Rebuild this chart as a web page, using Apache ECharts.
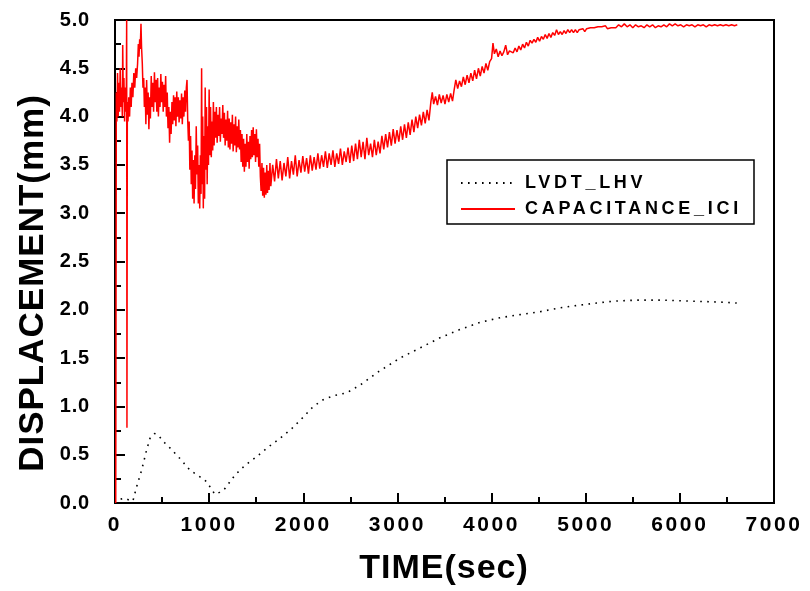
<!DOCTYPE html>
<html>
<head>
<meta charset="utf-8">
<script src="https://cdn.jsdelivr.net/npm/echarts@6/dist/echarts.min.js"></script>
<style>
html,body{margin:0;padding:0;background:#fff;}
#chart{width:810px;height:591px;}
</style>
</head>
<body>
<div id="chart"></div>
<script>
const seriesNames = ['LVDT_LHV', 'CAPACITANCE_ICI'];
const xTitle = 'TIME(sec)';
const yTitle = 'DISPLACEMENT(mm)';

// LVDT_LHV : [time (sec), displacement (mm)]
const lvdt = [
  [60,0.04],[100,0.05],[150,0.03],[190,0.02],[230,0.17],[283,0.34],[336,0.55],[372,0.67],
  [420,0.72],[460,0.70],[520,0.63],[584,0.57],[690,0.46],[797,0.34],[903,0.27],[974,0.22],
  [1027,0.14],[1062,0.09],[1110,0.11],[1168,0.15],[1275,0.29],[1381,0.39],[1505,0.48],
  [1629,0.58],[1753,0.67],[1877,0.77],[2001,0.89],[2107,1.00],[2213,1.07],[2319,1.11],
  [2461,1.14],[2602,1.22],[2800,1.36],[3027,1.50],[3250,1.61],[3452,1.71],[3650,1.79],
  [3877,1.87],[4100,1.92],[4302,1.95],[4514,1.98],[4727,2.02],[4868,2.04],[5116,2.07],
  [5300,2.09],[5541,2.10],[5824,2.10],[6108,2.09],[6427,2.08],[6604,2.07]
];

// CAPACITANCE_ICI : [time (sec), displacement (mm)]
const capacitance = [
  [8,0.0],[14,4.25],[20,3.95],[27,4.45],[34,4.0],[41,4.35],[48,4.05],[55,4.5],[62,4.1],[70,4.3],
  [78,4.0],[82,4.74],[88,4.15],[95,4.4],[102,3.95],[108,4.3],[114,4.05],[120,4.2],[124,5.0],[127,0.78],
  [131,4.15],[138,3.95],[146,4.2],[155,4.0],[163,4.3],[172,4.1],[180,4.35],[190,4.2],[200,4.45],[210,4.3],
  [220,4.5],[230,4.4],[240,4.55],[248,4.75],[255,4.62],[262,4.8],[268,4.7],[276,4.96],[282,4.72],[290,4.55],
  [297,4.3],[305,4.4],[312,4.1],[320,4.3],[328,3.92],[336,4.38],[344,4.02],[352,4.25],[360,3.87],[368,4.2],
  [376,3.98],[385,4.42],[393,4.1],[402,4.35],[410,4.05],[419,4.46],[427,4.15],[436,4.38],[444,4.05],[453,4.4],
  [461,4.0],[470,4.3],[478,4.1],[487,4.44],[495,4.15],[504,4.36],[512,4.05],[521,4.33],[529,4.1],[538,4.42],
  [546,4.0],[555,4.25],[563,3.88],[572,4.1],[580,3.73],[588,4.05],[596,3.82],[605,4.15],[613,3.92],[622,4.22],
  [630,3.96],[639,4.2],[647,3.9],[656,4.26],[664,4.0],[673,4.2],[681,3.94],[690,4.17],[698,3.98],[707,4.24],
  [715,3.92],[724,4.2],[732,4.0],[741,4.27],[749,4.05],[758,4.3],[765,4.38],[772,3.98],[780,3.75],[788,3.95],
  [795,3.45],[803,3.8],[810,3.3],[818,3.65],[825,3.15],[833,3.55],[840,3.1],[848,3.6],[855,3.25],[863,3.9],
  [870,3.4],[878,3.7],[885,3.1],[893,3.5],[900,3.05],[907,3.6],[914,3.2],[920,4.5],[926,3.3],[932,4.0],
  [938,3.05],[945,3.8],[952,3.15],[958,4.3],[965,3.45],[972,4.1],[979,3.3],[986,3.9],[993,3.5],[1000,4.28],
  [1008,3.6],[1015,4.1],[1023,3.58],[1030,3.95],[1038,3.65],[1045,4.15],[1053,3.7],[1060,4.05],[1068,3.78],[1077,4.1],
  [1085,3.73],[1094,4.02],[1102,3.8],[1111,4.1],[1119,3.74],[1128,3.98],[1136,3.82],[1145,4.12],[1153,3.78],[1162,4.04],
  [1170,3.7],[1179,3.97],[1187,3.75],[1196,4.06],[1204,3.68],[1213,3.98],[1221,3.66],[1230,3.94],[1238,3.72],[1247,4.02],
  [1255,3.64],[1264,3.92],[1272,3.7],[1281,4.0],[1289,3.63],[1298,3.9],[1306,3.68],[1315,3.97],[1323,3.66],[1332,3.86],
  [1340,3.53],[1349,3.82],[1357,3.48],[1366,3.77],[1374,3.43],[1383,3.72],[1391,3.48],[1400,3.82],[1408,3.53],[1417,3.74],
  [1425,3.46],[1434,3.8],[1442,3.56],[1451,3.86],[1459,3.58],[1468,3.89],[1476,3.6],[1485,3.82],[1493,3.53],[1502,3.87],
  [1510,3.58],[1519,3.77],[1527,3.48],[1536,3.72],[1544,3.38],[1552,3.23],[1561,3.52],[1569,3.18],[1578,3.47],[1586,3.16],
  [1595,3.42],[1603,3.19],[1612,3.5],[1620,3.21],[1629,3.44],[1637,3.24],[1646,3.52],[1655,3.28],[1675,3.5],[1695,3.33],
  [1715,3.56],[1735,3.36],[1755,3.54],[1775,3.34],[1795,3.52],[1815,3.38],[1835,3.58],[1855,3.36],[1875,3.54],[1895,3.4],
  [1915,3.6],[1935,3.38],[1955,3.55],[1975,3.42],[1995,3.59],[2015,3.43],[2035,3.57],[2055,3.41],[2075,3.6],[2095,3.44],
  [2115,3.58],[2135,3.45],[2155,3.62],[2175,3.46],[2195,3.6],[2215,3.48],[2235,3.64],[2255,3.47],[2275,3.62],[2295,3.5],
  [2315,3.65],[2335,3.48],[2355,3.62],[2375,3.51],[2395,3.67],[2415,3.5],[2435,3.64],[2455,3.53],[2475,3.68],[2495,3.52],
  [2515,3.7],[2535,3.54],[2555,3.72],[2575,3.56],[2595,3.76],[2615,3.58],[2635,3.74],[2655,3.56],[2675,3.78],[2695,3.6],
  [2715,3.72],[2735,3.58],[2755,3.76],[2775,3.6],[2795,3.74],[2815,3.62],[2835,3.8],[2855,3.66],[2875,3.82],[2895,3.68],
  [2915,3.84],[2935,3.7],[2955,3.87],[2975,3.72],[2995,3.86],[3015,3.74],[3035,3.9],[3055,3.76],[3075,3.92],[3095,3.78],
  [3115,3.94],[3135,3.81],[3155,3.97],[3175,3.84],[3195,4.0],[3215,3.88],[3235,4.02],[3255,3.91],[3275,4.05],[3295,3.93],
  [3315,4.07],[3335,3.96],[3355,4.15],[3370,4.25],[3385,4.13],[3405,4.21],[3425,4.12],[3445,4.23],[3465,4.14],[3485,4.22],
  [3505,4.13],[3525,4.23],[3545,4.15],[3565,4.24],[3585,4.16],[3600,4.26],[3620,4.38],[3640,4.29],[3660,4.37],[3680,4.31],
  [3700,4.41],[3720,4.33],[3740,4.43],[3760,4.35],[3780,4.45],[3800,4.37],[3820,4.48],[3840,4.39],[3860,4.5],[3880,4.42],
  [3900,4.52],[3920,4.45],[3940,4.55],[3960,4.48],[3980,4.57],[4000,4.6],[4015,4.76],[4030,4.65],[4050,4.7],[4070,4.62],
  [4090,4.68],[4110,4.63],[4130,4.67],[4150,4.74],[4170,4.64],[4190,4.68],[4210,4.7],[4230,4.66],[4250,4.71],[4270,4.67],
  [4290,4.73],[4310,4.69],[4330,4.75],[4350,4.71],[4370,4.77],[4390,4.73],[4410,4.79],[4430,4.76],[4450,4.8],[4470,4.77],
  [4490,4.82],[4510,4.78],[4530,4.83],[4550,4.8],[4570,4.85],[4590,4.81],[4610,4.86],[4630,4.82],[4650,4.87],[4670,4.84],
  [4690,4.9],[4710,4.85],[4730,4.88],[4750,4.85],[4770,4.89],[4790,4.86],[4810,4.9],[4830,4.87],[4850,4.9],[4870,4.87],
  [4890,4.9],[4910,4.87],[4930,4.9],[4950,4.88],[4970,4.91],[4990,4.88],[5010,4.91],[5030,4.89],[5050,4.92],[5070,4.9],
  [5090,4.92],[5110,4.9],[5130,4.93],[5150,4.91],[5170,4.93],[5190,4.91],[5210,4.94],[5230,4.91],[5250,4.93],[5270,4.92],
  [5290,4.94],[5320,4.92],[5350,4.95],[5380,4.93],[5410,4.96],[5440,4.93],[5470,4.95],[5500,4.92],[5530,4.95],[5560,4.93],
  [5590,4.94],[5620,4.92],[5650,4.95],[5680,4.93],[5710,4.95],[5740,4.92],[5770,4.94],[5800,4.93],[5830,4.95],[5860,4.93],
  [5890,4.96],[5920,4.94],[5950,4.96],[5980,4.94],[6010,4.95],[6040,4.93],[6070,4.95],[6100,4.94],[6130,4.95],[6160,4.93],
  [6190,4.95],[6220,4.94],[6250,4.95],[6280,4.93],[6310,4.95],[6340,4.94],[6370,4.95],[6400,4.94],[6430,4.95],[6460,4.94],
  [6490,4.95],[6520,4.94],[6550,4.95],[6580,4.94],[6610,4.95]
];

const FONT = '"Liberation Sans", Arial, Helvetica, sans-serif';

// letter spacing (px) for the bold texts, keyed by font size
const LETTER_SPACING = {18: 3.7, 21: 2.6, 20: 0.8, 34: 1, 35: 1};
(function () {
  const proto = CanvasRenderingContext2D.prototype;
  const orig = proto.fillText;
  proto.fillText = function (t, x, y, mw) {
    const m = /(\d+(?:\.\d+)?)px/.exec(this.font || '');
    const sp = m ? LETTER_SPACING[Math.round(parseFloat(m[1]))] : 0;
    if (sp && 'letterSpacing' in this) {
      const prev = this.letterSpacing;
      this.letterSpacing = sp + 'px';
      if (mw === undefined) orig.call(this, t, x, y); else orig.call(this, t, x, y, mw);
      this.letterSpacing = prev;
      return;
    }
    if (mw === undefined) return orig.call(this, t, x, y);
    return orig.call(this, t, x, y, mw);
  };
})();

const chart = echarts.init(document.getElementById('chart'), null, {renderer: 'canvas'});
chart.setOption({
  animation: false,
  backgroundColor: '#ffffff',
  grid: {
    left: 115, right: 36, top: 20, bottom: 88,
    show: true, borderColor: '#000', borderWidth: 2, backgroundColor: 'transparent'
  },
  xAxis: {
    type: 'value', min: 0, max: 7000, interval: 1000,
    axisLine: {show: true, lineStyle: {color: '#000', width: 2}},
    axisTick: {show: true, inside: true, length: 10, lineStyle: {color: '#000', width: 2}},
    minorTick: {show: true, splitNumber: 2, length: 6, lineStyle: {color: '#000', width: 2}},
    splitLine: {show: false},
    axisLabel: {color: '#000', fontFamily: FONT, fontWeight: 'bold', fontSize: 21, margin: 12,
      formatter: v => String(v)}
  },
  yAxis: {
    type: 'value', min: 0, max: 5, interval: 0.5,
    axisLine: {show: true, lineStyle: {color: '#000', width: 2}},
    axisTick: {show: true, inside: true, length: 10, lineStyle: {color: '#000', width: 2}},
    minorTick: {show: true, splitNumber: 2, length: 6, lineStyle: {color: '#000', width: 2}},
    splitLine: {show: false},
    axisLabel: {color: '#000', fontFamily: FONT, fontWeight: 'bold', fontSize: 20, margin: 25,
      formatter: v => v.toFixed(1)}
  },
  legend: {
    orient: 'vertical', left: 447, top: 162,
    padding: [12, 12, 12, 13], itemGap: 8, itemWidth: 54, itemHeight: 17,
    borderWidth: 0, backgroundColor: 'transparent',
    itemStyle: {opacity: 0},
    textStyle: {color: '#000', fontFamily: FONT, fontWeight: 'bold', fontSize: 18, padding: [0, 0, 0, 5]},
    data: seriesNames
  },
  graphic: [
    {
      type: 'rect', shape: {x: 447, y: 160, width: 307, height: 64}, z: 1,
      style: {fill: '#fff', stroke: '#000', lineWidth: 1.5}
    },
    {
      type: 'text', x: 444, y: 569,
      style: {text: xTitle, fill: '#000', font: 'bold 34px ' + FONT, textAlign: 'center', textVerticalAlign: 'middle'}
    },
    {
      type: 'text', x: 33, y: 283, rotation: Math.PI / 2,
      style: {text: yTitle, fill: '#000', font: 'bold 35px ' + FONT, textAlign: 'center', textVerticalAlign: 'middle'}
    }
  ],
  series: [
    {
      name: seriesNames[0], type: 'line', data: lvdt, symbol: 'none', smooth: false,
      lineStyle: {color: '#000', width: 1.6, type: [1.6, 5.4]},
      itemStyle: {color: '#000'}, z: 3
    },
    {
      name: seriesNames[1], type: 'line', data: capacitance, symbol: 'none', smooth: false,
      lineStyle: {color: '#ff0000', width: 1.5},
      itemStyle: {color: '#ff0000'}, z: 2
    }
  ]
});
</script>
</body>
</html>
